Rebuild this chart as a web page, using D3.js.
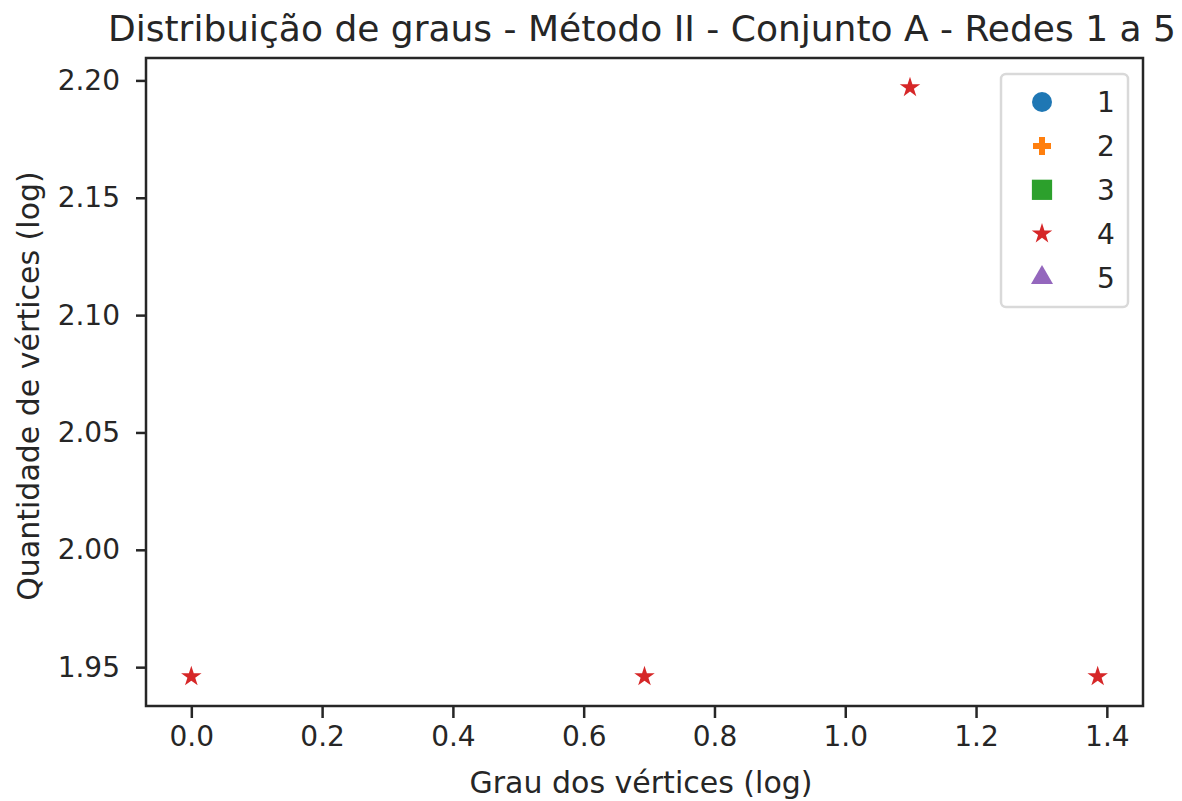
<!DOCTYPE html>
<html lang="pt">
<head>
    <meta charset="utf-8" />
    <title>Distribuição de graus - Método II</title>
    <script src="https://d3js.org/d3.v7.min.js"></script>
    <style>
        body { margin: 0; background: #fff; }
        text { font-family: "DejaVu Sans", sans-serif; fill: #262626; }
    </style>
</head>
<body>
<script>
    var w = 1182;
    var h = 801;
    var margin = {top: 58, right: 39, bottom: 95, left: 146};

    // series names (legend) and colours
    var seriesNames = ["1", "2", "3", "4", "5"];
    var seriesColors = ["#1f77b4", "#ff7f0e", "#2ca02c", "#d62728", "#9467bd"];
    // only rede 4 has points on the chart
    var degreeLog = [[], [], [], [0, 0.693, 1.099, 1.386], []];
    var countLog = [[], [], [], [1.946, 1.946, 2.197, 1.946], []];

    var xTicks = [0.0, 0.2, 0.4, 0.6, 0.8, 1.0, 1.2, 1.4];
    var yTicks = [1.95, 2.00, 2.05, 2.10, 2.15, 2.20];

    var symbols = [d3.symbolCircle, d3.symbolCross, d3.symbolSquare, d3.symbolStar, d3.symbolTriangle];
    var symbolSizes = [314, 180, 410, 130, 210];

    var allX = d3.merge(degreeLog);
    var allY = d3.merge(countLog);
    // matplotlib style 5% margins
    var xExt = d3.extent(allX), yExt = d3.extent(allY);
    var xPad = (xExt[1] - xExt[0]) * 0.05, yPad = (yExt[1] - yExt[0]) * 0.05;

    var xScale = d3.scaleLinear()
        .domain([xExt[0] - xPad, xExt[1] + xPad])
        .range([margin.left, w - margin.right]);

    var yScale = d3.scaleLinear()
        .domain([yExt[0] - yPad, yExt[1] + yPad])
        .range([h - margin.bottom, margin.top]);

    var svg = d3.select("body")
        .append("svg")
        .attr("width", w)
        .attr("height", h);

    // points
    seriesNames.forEach(function(name, i) {
        var pts = degreeLog[i].map(function(x, j) { return [x, countLog[i][j]]; });
        svg.append("g")
            .selectAll("path")
            .data(pts)
            .enter()
            .append("path")
            .attr("d", d3.symbol().type(symbols[i]).size(symbolSizes[i]))
            .attr("transform", function(d) {
                return "translate(" + xScale(d[0]) + "," + yScale(d[1]) + ")";
            })
            .attr("fill", seriesColors[i]);
    });

    // axes
    var xAxis = d3.axisBottom(xScale)
        .tickValues(xTicks)
        .tickFormat(d3.format(".1f"))
        .tickSize(12)
        .tickPadding(8);
    var yAxis = d3.axisLeft(yScale)
        .tickValues(yTicks)
        .tickFormat(d3.format(".2f"))
        .tickSize(10)
        .tickPadding(16);

    var gx = svg.append("g")
        .attr("transform", "translate(0," + (h - margin.bottom) + ")")
        .call(xAxis);
    var gy = svg.append("g")
        .attr("transform", "translate(" + margin.left + ",0)")
        .call(yAxis);

    [gx, gy].forEach(function(g) {
        g.select(".domain").remove();
        g.selectAll("line").attr("stroke", "#262626").attr("stroke-width", 2.5);
        g.selectAll("text")
            .attr("font-size", "28px")
            .attr("fill", "#262626")
            .style("font-family", "DejaVu Sans");
    });

    // frame
    svg.append("rect")
        .attr("x", margin.left)
        .attr("y", margin.top)
        .attr("width", w - margin.left - margin.right)
        .attr("height", h - margin.top - margin.bottom)
        .attr("fill", "none")
        .attr("stroke", "#262626")
        .attr("stroke-width", 2.5);

    // title and labels
    svg.append("text")
        .attr("x", 642)
        .attr("y", 41)
        .attr("text-anchor", "middle")
        .attr("font-size", "36px")
        .text("Distribuição de graus - Método II - Conjunto A - Redes 1 a 5");

    svg.append("text")
        .attr("x", 641)
        .attr("y", 793)
        .attr("text-anchor", "middle")
        .attr("font-size", "30px")
        .text("Grau dos vértices (log)");

    svg.append("text")
        .attr("transform", "translate(39,386) rotate(-90)")
        .attr("text-anchor", "middle")
        .attr("font-size", "30px")
        .text("Quantidade de vértices (log)");

    // legend
    var legend = svg.append("g").attr("transform", "translate(1001,74)");
    legend.append("rect")
        .attr("width", 127)
        .attr("height", 233)
        .attr("rx", 5)
        .attr("fill", "#fff")
        .attr("fill-opacity", 0.8)
        .attr("stroke", "#d9d9d9")
        .attr("stroke-width", 2.5);

    var items = legend.selectAll("g.item")
        .data(seriesNames)
        .enter()
        .append("g")
        .attr("class", "item")
        .attr("transform", function(d, i) { return "translate(0," + (28 + i * 43.9) + ")"; });

    items.append("path")
        .attr("d", function(d, i) { return d3.symbol().type(symbols[i]).size(symbolSizes[i])(); })
        .attr("transform", "translate(41,0)")
        .attr("fill", function(d, i) { return seriesColors[i]; });

    items.append("text")
        .attr("x", 96)
        .attr("y", 10)
        .attr("font-size", "28px")
        .text(function(d) { return d; });
</script>
</body>
</html>
